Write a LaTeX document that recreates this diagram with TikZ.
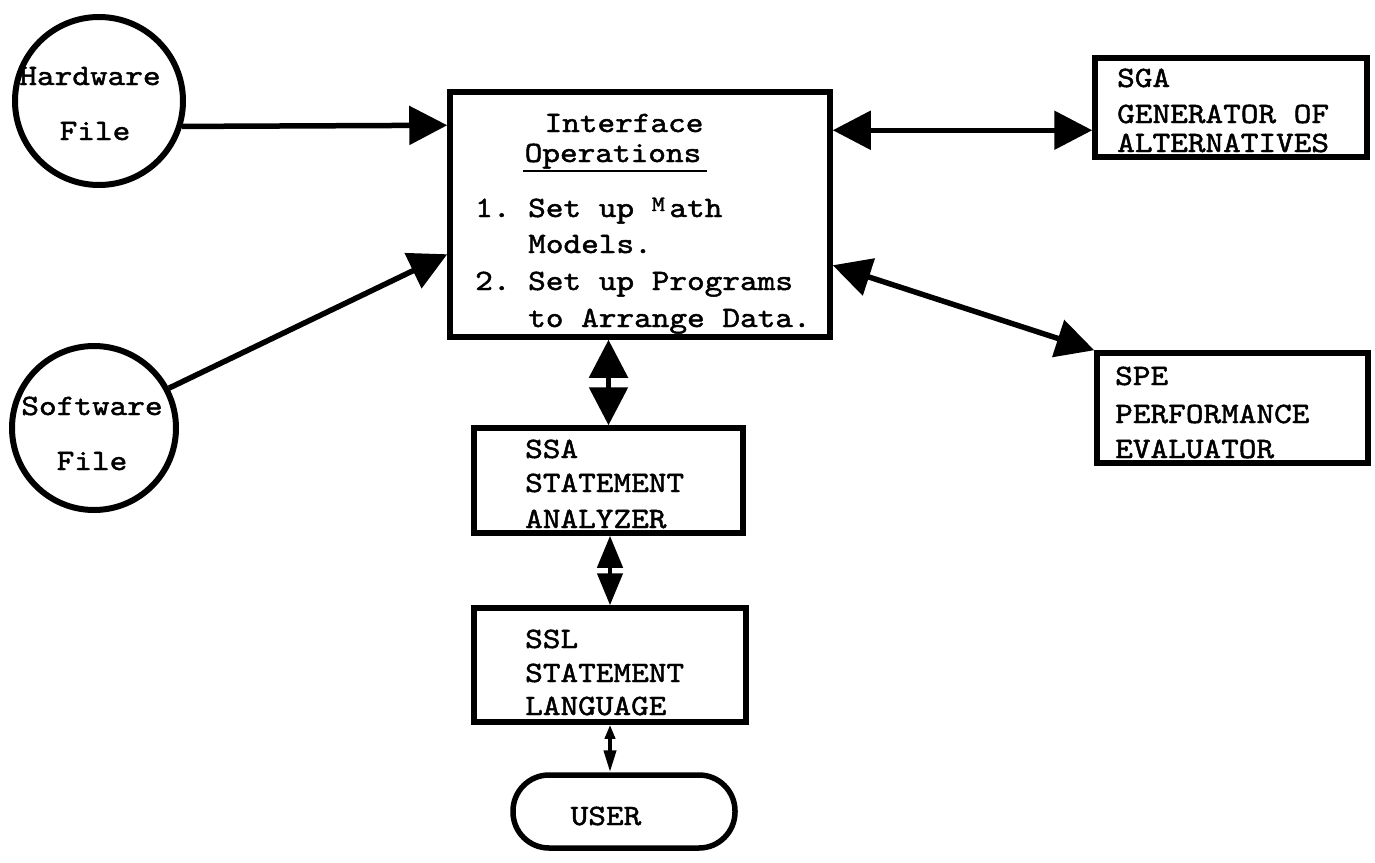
\documentclass[tikz,border=0pt]{standalone}
\usepackage{fontspec}
\setmonofont{lmmono10-regular.otf}[FakeStretch=1.14, FakeBold=1.6]
\usetikzlibrary{arrows.meta,calc}

\begin{document}
\begin{tikzpicture}[x=1pt,y=-1pt,
  every node/.style={font=\ttfamily\fontsize{29.5}{37}\selectfont},
  filecircle/.style={draw, circle, line width=6pt, inner sep=0pt},
  procbox/.style={draw, rectangle, line width=5.5pt, inner sep=0pt},
  txt/.style={anchor=base west, inner sep=0pt},
  ctxt/.style={anchor=base, inner sep=0pt},
  one/.style={line width=5.5pt, -{Triangle[length=38pt,width=38pt]}},
  two/.style={line width=5.5pt, {Triangle[length=38pt,width=38pt]}-{Triangle[length=38pt,width=38pt]}},
  mid/.style={line width=4.5pt, {Triangle[length=32pt,width=25pt]}-{Triangle[length=32pt,width=25pt]}},
  small/.style={line width=4pt, {Triangle[length=14pt,width=10pt]}-{Triangle[length=22pt,width=12pt]}},
]
\useasboundingbox (0,0) rectangle (1375,862);

% data files
\node[filecircle, minimum size=168pt] (hw) at (99,101) {};
\node[ctxt] (hwt1) at (90,85) {Hardware};
\node[ctxt] (hwt2) at (95,140) {File};

\node[filecircle, minimum size=164pt] (sw) at (94,428) {};
\node[ctxt] (swt1) at (92,415) {Software};
\node[ctxt] (swt2) at (92,470) {File};

% interface operations
\node[procbox, minimum width=380pt, minimum height=245pt] (main) at (640,214.5) {};
\node[ctxt] (ifc1) at (624,132) {Interface};
\node[ctxt] (ifc2) at (613,162) {Operations};
\draw[line width=2.5pt] (523,171) -- (707,171);
\node[txt] (op1) at (475,217) {1. Set up \raisebox{6pt}{\fontsize{22}{22}\selectfont M}\kern4.5pt ath};
\node[txt] (op2) at (528,253) {Models.};
\node[txt] (op3) at (475,290) {2. Set up Programs};
\node[txt] (op4) at (528,327) {to Arrange Data.};

% generator of alternatives
\node[procbox, minimum width=272pt, minimum height=99pt] (sga) at (1231,107.5) {};
\node[txt] (sga1) at (1117,87) {SGA};
\node[txt] (sga2) at (1117,123) {GENERATOR OF};
\node[txt] (sga3) at (1117,152) {ALTERNATIVES};

% performance evaluator
\node[procbox, minimum width=271pt, minimum height=110pt] (spe) at (1232.5,408) {};
\node[txt] (spe1) at (1115,385) {SPE};
\node[txt] (spe2) at (1115,423) {PERFORMANCE};
\node[txt] (spe3) at (1115,458) {EVALUATOR};

% statement analyzer
\node[procbox, minimum width=269pt, minimum height=105pt] (ssa) at (608.5,480.5) {};
\node[txt] (ssa1) at (525,458) {SSA};
\node[txt] (ssa2) at (525,492) {STATEMENT};
\node[txt] (ssa3) at (525,528) {ANALYZER};

% statement language
\node[procbox, minimum width=272pt, minimum height=114pt] (ssl) at (610,665) {};
\node[txt] (ssl1) at (525,648) {SSL};
\node[txt] (ssl2) at (525,682) {STATEMENT};
\node[txt] (ssl3) at (525,715) {LANGUAGE};

% user
\node[procbox, rounded corners=36pt, minimum width=222pt, minimum height=73pt] (user) at (624,811.5) {};
\node[ctxt] (usert) at (606,825) {USER};

% connectors
\coordinate (hwin) at ($(main.north west)+(0,36)$);
\coordinate (swin) at ($(main.north west)+(0,165)$);
\coordinate (sgaout) at ($(main.north east)+(0,41)$);
\coordinate (speout) at ($(main.north east)+(0,176)$);

\draw[one] (hw.-17) -- (hwin);
\draw[one] (sw.28) -- (swin);
\draw[two] (sgaout) -- (sgaout -| sga.west);
\draw[two] (speout) -- (spe.north west);
\draw[two] (ssa.north) -- (ssa.north |- main.south);
\draw[mid] (ssa.south -| ssl.north) -- (ssl.north);
\draw[small] (ssl.south) -- (ssl.south |- user.north);
\end{tikzpicture}
\end{document}
